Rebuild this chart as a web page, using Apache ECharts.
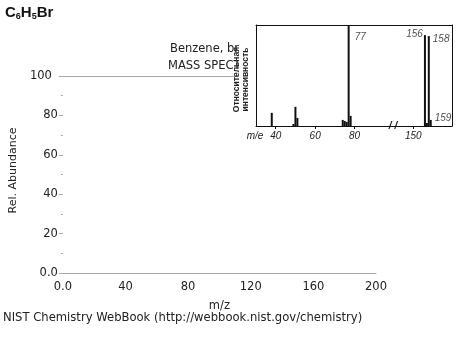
<!DOCTYPE html>
<html>
<head>
<meta charset="utf-8">
<script src="https://cdn.jsdelivr.net/npm/echarts@6/dist/echarts.min.js"></script>
<style>html,body{margin:0;padding:0;background:#fff;}#c{width:467px;height:350px;}</style>
</head>
<body>
<div id="c"></div>
<script>
// Main NIST axes
var mainXTicks = [0, 40, 80, 120, 160, 200];
var mainYTicks = [0, 20, 40, 60, 80, 100];
// Inset spectrum (left part of broken axis)
var insetLeftMz = [38, 49, 50, 51, 74, 75, 76, 77, 78];
var insetLeftAb = [13, 2, 19, 8, 6, 5, 4, 100, 10];
// Inset spectrum (right part of broken axis)
var insetRightMz = [156, 157, 158, 159];
var insetRightAb = [90, 3, 89, 6];
// Peak annotations
var annLeft = [[77, 88, '77']];
var annRight = [[156, 91, '156'], [158, 86, '158'], [159, 8, '159']];
var insetTicksLeft = [40, 60, 80];
var insetTicksRight = [150];

var chart = echarts.init(document.getElementById('c'), null, {renderer: 'canvas'});
var F = 'DejaVu Sans';
var IF = 'Liberation Sans';
var gray = '#a8a8a8';
var txt = '#222';

function pairs(xs, ys) { return xs.map(function (x, i) { return [x, ys[i]]; }); }
function annText(p) { var v = Array.isArray(p.data) ? p.data : p.data.value; return v[2]; }

var insetLabelStyle = {fontFamily: IF, fontStyle: 'italic', fontSize: 10, color: '#222'};

var option = {
  animation: false,
  backgroundColor: '#fff',
  grid: [
    {left: 57, top: 76, width: 319, height: 197},
    {left: 256, top: 25, width: 138, height: 101, z: 5},
    {left: 394, top: 25, width: 58, height: 101, z: 5}
  ],
  xAxis: [
    {gridIndex: 0, type: 'value', min: 0, max: 200, interval: 40, position: 'bottom',
     axisLine: {show: true, lineStyle: {color: gray, width: 1}},
     axisTick: {show: false}, splitLine: {show: false},
     axisLabel: {margin: 8, fontFamily: F, fontSize: 11.5, color: txt,
       formatter: function (v) { return v === 0 ? '0.0' : String(v); }},
     name: 'm/z', nameLocation: 'middle', nameGap: 27,
     nameTextStyle: {fontFamily: F, fontSize: 11.5, color: txt}},
    {gridIndex: 0, type: 'value', min: 0, max: 200, position: 'top',
     axisLine: {show: true, lineStyle: {color: gray, width: 1}},
     axisTick: {show: false}, axisLabel: {show: false}, splitLine: {show: false}},
    {gridIndex: 1, type: 'value', min: 30, max: 100, position: 'bottom', z: 6,
     axisLine: {show: true, onZero: false, lineStyle: {color: '#111', width: 1}},
     axisTick: {show: true, customValues: insetTicksLeft, length: 3, inside: false, lineStyle: {color: '#111'}},
     axisLabel: Object.assign({margin: 5, customValues: insetTicksLeft}, insetLabelStyle),
     splitLine: {show: false}},
    {gridIndex: 1, type: 'value', min: 30, max: 100, position: 'top', z: 6,
     axisLine: {show: true, onZero: false, lineStyle: {color: '#111', width: 1}},
     axisTick: {show: false}, axisLabel: {show: false}, splitLine: {show: false}},
    {gridIndex: 2, type: 'value', min: 140, max: 170, position: 'bottom', z: 6,
     axisLine: {show: true, onZero: false, lineStyle: {color: '#111', width: 1}},
     axisTick: {show: true, customValues: insetTicksRight, length: 3, lineStyle: {color: '#111'}},
     axisLabel: Object.assign({margin: 5, customValues: insetTicksRight}, insetLabelStyle),
     splitLine: {show: false}},
    {gridIndex: 2, type: 'value', min: 140, max: 170, position: 'top', z: 6,
     axisLine: {show: true, onZero: false, lineStyle: {color: '#111', width: 1}},
     axisTick: {show: false}, axisLabel: {show: false}, splitLine: {show: false}}
  ],
  yAxis: [
    {gridIndex: 0, type: 'value', min: 0, max: 100, interval: 20,
     axisLine: {show: false},
     axisTick: {show: true, length: 4, lineStyle: {color: gray}},
     minorTick: {show: true, splitNumber: 2, length: 2, lineStyle: {color: gray}},
     splitLine: {show: false},
     axisLabel: {margin: 5, fontFamily: F, fontSize: 11.5, color: txt,
       formatter: function (v) { return v === 0 ? '0.0' : (v === 100 ? '{h|100}' : String(v)); },
       rich: {h: {fontFamily: F, fontSize: 11.5, color: txt, padding: [0, 6, 0, 0]}}},
     name: 'Rel. Abundance', nameLocation: 'middle', nameGap: 40, nameRotate: 90,
     nameTextStyle: {fontFamily: F, fontSize: 11, color: txt, padding: [0, 0, 0, 8]}},
    {gridIndex: 1, type: 'value', min: 0, max: 100, position: 'left', z: 6,
     axisLine: {show: true, onZero: false, lineStyle: {color: '#111', width: 1}},
     axisTick: {show: false}, axisLabel: {show: false}, splitLine: {show: false},
     name: 'Относительная\nинтенсивность', nameLocation: 'middle', nameGap: 6, nameRotate: 90,
     nameTextStyle: {fontFamily: IF, fontSize: 8.5, fontWeight: 'bold', color: '#222', lineHeight: 9, padding: [0, 8, 0, 0]}},
    {gridIndex: 2, type: 'value', min: 0, max: 100, position: 'right', z: 6,
     axisLine: {show: true, onZero: false, lineStyle: {color: '#111', width: 1}},
     axisTick: {show: false}, axisLabel: {show: false}, splitLine: {show: false}}
  ],
  series: [
    {type: 'bar', xAxisIndex: 2, yAxisIndex: 1, barWidth: 2, z: 7,
     itemStyle: {color: '#111'}, data: pairs(insetLeftMz, insetLeftAb)},
    {type: 'bar', xAxisIndex: 4, yAxisIndex: 2, barWidth: 2, z: 7,
     itemStyle: {color: '#111'}, data: pairs(insetRightMz, insetRightAb)},
    {type: 'scatter', xAxisIndex: 2, yAxisIndex: 1, symbolSize: 0, z: 8, silent: true,
     label: Object.assign({show: true, position: 'right', distance: 6, formatter: annText}, insetLabelStyle),
     data: annLeft},
    {type: 'scatter', xAxisIndex: 4, yAxisIndex: 2, symbolSize: 0, z: 8, silent: true,
     label: Object.assign({show: true, position: 'right', distance: 4, formatter: annText}, insetLabelStyle),
     data: annRight.map(function (a, i) {
       return i === 0 ? {value: a, label: {position: 'left', distance: 2}} : {value: a};
     })}
  ],
  graphic: [
    {type: 'text', left: 5, top: 5, z: 10, style: {
      text: '{b|C}{s|6}{b|H}{s|5}{b|Br}', fill: '#111',
      rich: {
        b: {fontFamily: 'Liberation Sans', fontWeight: 'bold', fontSize: 15, lineHeight: 18, fill: '#111'},
        s: {fontFamily: 'Liberation Sans', fontWeight: 'bold', fontSize: 9, lineHeight: 18, verticalAlign: 'bottom', padding: [6, 0, 0, 0], fill: '#111'}
      }}},
    {type: 'text', x: 170, y: 49, z: 1, style: {text: 'Benzene, bromo-', font: '11.5px "DejaVu Sans"', fill: txt, textVerticalAlign: 'middle'}},
    {type: 'text', x: 168, y: 66, z: 1, style: {text: 'MASS SPECTRUM', font: '11.5px "DejaVu Sans"', fill: txt, textVerticalAlign: 'middle'}},
    {type: 'rect', shape: {x: 239, y: 14, width: 220, height: 130}, z: 3, style: {fill: '#fff'}},
    {type: 'text', x: 255, y: 136, z: 12, style: {text: 'm/e', font: 'italic 10px "Liberation Sans"', fill: '#222', textAlign: 'center', textVerticalAlign: 'middle'}},
    {type: 'text', x: 393, y: 126, z: 12, style: {text: '/ /', font: 'italic bold 10px "Liberation Sans"', fill: '#111', textAlign: 'center', textVerticalAlign: 'middle'}},
    {type: 'text', x: 3, y: 318, z: 10, style: {text: 'NIST Chemistry WebBook (http://webbook.nist.gov/chemistry)', font: '11.6px "DejaVu Sans"', fill: txt, textVerticalAlign: 'middle'}}
  ]
};
chart.setOption(option);
</script>
</body>
</html>
